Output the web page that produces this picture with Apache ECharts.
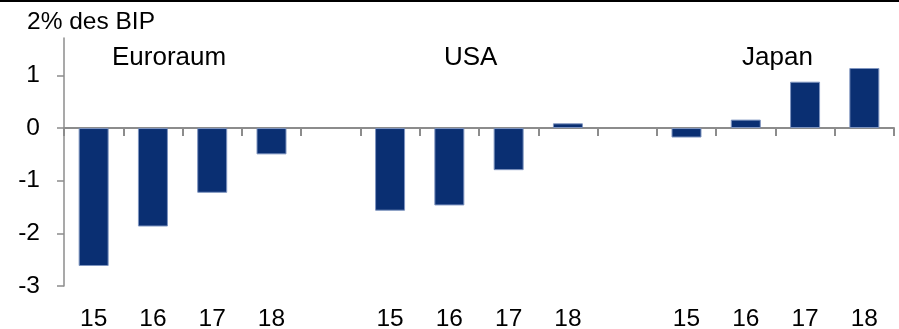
<!DOCTYPE html>
<html>
<head>
<meta charset="utf-8">
<script src="https://cdn.jsdelivr.net/npm/echarts@6/dist/echarts.min.js"></script>
<style>
html,body{margin:0;padding:0;background:#fff;}
#chart{width:899px;height:329px;}
</style>
</head>
<body>
<div id="chart"></div>
<script>
// Data
const categories = ['15', '16', '17', '18', '', '15', '16', '17', '18', '', '15', '16', '17', '18'];
const values = [-2.62, -1.87, -1.23, -0.50, null, -1.57, -1.47, -0.80, 0.09, null, -0.18, 0.16, 0.88, 1.14];
const yTicks = [-3, -2, -1, 0, 1];
const groupLabels = ['Euroraum', 'USA', 'Japan'];
const yTitle = '2% des BIP';

const chart = echarts.init(document.getElementById('chart'));
const font = 'Arial, "Liberation Sans", sans-serif';
const axisGrey = '#8c8c8c';

chart.setOption({
  animation: false,
  grid: { left: 64, right: 5, top: 38, bottom: 43, containLabel: false, outerBoundsMode: 'none' },
  xAxis: [
    {
      type: 'category',
      data: categories,
      position: 'bottom',
      axisLine: { show: true, onZero: true, lineStyle: { color: axisGrey, width: 2 } },
      axisTick: { show: true, length: 8, inside: false, alignWithLabel: false, lineStyle: { color: axisGrey, width: 2 } },
      axisLabel: { show: false },
      splitLine: { show: false }
    },
    {
      type: 'category',
      data: categories,
      position: 'bottom',
      axisLine: { show: false, onZero: false },
      axisTick: { show: false },
      axisLabel: { show: true, margin: 21, fontSize: 24.5, color: '#000', fontFamily: font, interval: 0 },
      splitLine: { show: false }
    }
  ],
  yAxis: {
    type: 'value',
    min: -3,
    max: 1.71,
    axisLine: { show: true, lineStyle: { color: axisGrey, width: 1.5 } },
    axisTick: { show: true, length: 7, customValues: yTicks, lineStyle: { color: axisGrey, width: 1.5 } },
    axisLabel: { show: true, margin: 24, fontSize: 24.5, color: '#000', fontFamily: font, customValues: yTicks },
    splitLine: { show: false }
  },
  graphic: [
    { type: 'rect', left: 0, top: 0, shape: { width: 899, height: 2 }, style: { fill: '#000' } },
    { type: 'text', left: 27, top: 10, style: { text: yTitle, font: '24.5px ' + font, fill: '#000' } },
    { type: 'text', left: 112, top: 45, style: { text: groupLabels[0], font: '26px ' + font, fill: '#000' } },
    { type: 'text', left: 444, top: 45, style: { text: groupLabels[1], font: '26px ' + font, fill: '#000' } },
    { type: 'text', left: 742, top: 45, style: { text: groupLabels[2], font: '26px ' + font, fill: '#000' } }
  ],
  series: [{
    type: 'bar',
    xAxisIndex: 0,
    data: values,
    barWidth: 30,
    itemStyle: { color: '#0a2f72', borderColor: '#7f95c0', borderWidth: 1 }
  }]
});
</script>
</body>
</html>
